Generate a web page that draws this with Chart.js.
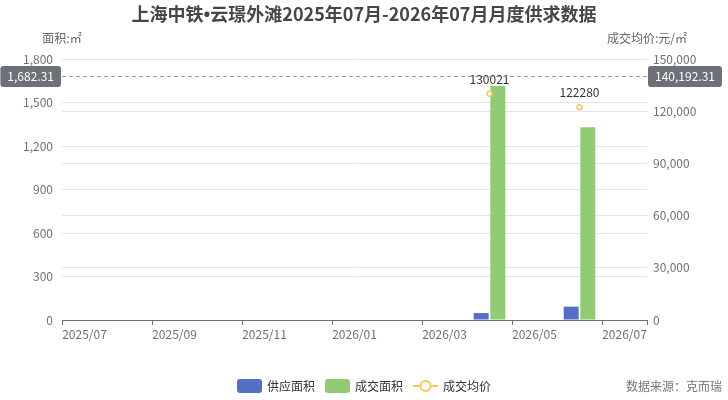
<!DOCTYPE html>
<html>
<head>
<meta charset="utf-8">
<script src="https://cdn.jsdelivr.net/npm/chart.js@4.4.0/dist/chart.umd.min.js"></script>
<style>
  body { margin: 0; background: #fff; font-family: "Noto Sans CJK SC", "Noto Sans", sans-serif; }
  #wrap { position: relative; width: 728px; height: 400px; overflow: hidden; }
  #title { position: absolute; left: 0; top: 2px; width: 728px; text-align: center;
           font-size: 18px; font-weight: bold; color: #464646; line-height: 22px; }
  #title .dot { font-family: "Noto Sans", "DejaVu Sans", sans-serif; }
  #legend { position: absolute; left: 0; top: 378px; width: 728px; display: flex;
            justify-content: center; font-size: 12px; color: #333; line-height: 16px; }
  #legend .item { display: flex; align-items: center; margin: 0 5px; }
  #legend .box { width: 25px; height: 14px; border-radius: 3px; margin-right: 5px; }
  #legend svg { margin-right: 5px; }
  #source { position: absolute; right: 6px; top: 378px; font-size: 12px; color: #777; line-height: 16px; }
</style>
</head>
<body>
<div id="wrap">
  <canvas id="c" width="728" height="400"></canvas>
  <div id="title">上海中铁<span class="dot">•</span>云璟外滩2025年07月-2026年07月月度供求数据</div>
  <div id="legend">
    <div class="item"><span class="box" style="background:#5470c6"></span>供应面积</div>
    <div class="item"><span class="box" style="background:#91cc75"></span>成交面积</div>
    <div class="item">
      <svg width="25" height="14"><line x1="0" y1="7" x2="25" y2="7" stroke="#fac858" stroke-width="2"/><circle cx="12.5" cy="7" r="5" fill="#fff" stroke="#fac858" stroke-width="2"/></svg>成交均价
    </div>
  </div>
  <div id="source">数据来源：克而瑞</div>
</div>
<script>
const months = ['2025/07','2025/08','2025/09','2025/10','2025/11','2025/12','2026/01',
                '2026/02','2026/03','2026/04','2026/05','2026/06','2026/07'];
const supplyArea = [0, 0, 0, 0, 0, 0, 0, 0, 0, 48, 0, 92, 0];
const dealArea   = [0, 0, 0, 0, 0, 0, 0, 0, 0, 1614, 0, 1329, 0];
const avgPrice   = [null, null, null, null, null, null, null, null, null, 130021, null, 122280, null];
const leftTicks  = { min: 0, max: 1800, step: 300 };
const rightTicks = { min: 0, max: 150000, step: 30000 };
const crossLeft  = 1682.31;
const crossRight = 140192.31;

const AXIS_GREY = '#6e7079';
const GRID = '#e0e6f1';
const FONT = '"Noto Sans CJK SC", "Noto Sans", sans-serif';
const fmt = v => v.toLocaleString('en-US');
const fmt2 = v => v.toLocaleString('en-US', { minimumFractionDigits: 2, maximumFractionDigits: 2 });

function roundRect(ctx, x, y, w, h, r) {
  ctx.beginPath();
  ctx.moveTo(x + r, y);
  ctx.arcTo(x + w, y, x + w, y + h, r);
  ctx.arcTo(x + w, y + h, x, y + h, r);
  ctx.arcTo(x, y + h, x, y, r);
  ctx.arcTo(x, y, x + w, y, r);
  ctx.closePath();
}

// axis names, price labels and the horizontal axis pointer
const extras = {
  id: 'extras',
  afterDatasetsDraw(chart) {
    const { ctx } = chart;
    const meta = chart.getDatasetMeta(2);
    ctx.save();
    ctx.font = `12px ${FONT}`;
    ctx.fillStyle = '#333';
    ctx.textAlign = 'center';
    ctx.textBaseline = 'alphabetic';
    meta.data.forEach((pt, i) => {
      if (avgPrice[i] == null) return;
      ctx.fillText(String(avgPrice[i]), pt.x, pt.y - 10);
    });
    ctx.restore();
  },
  afterDraw(chart) {
    const { ctx, chartArea: a, scales } = chart;
    ctx.save();
    ctx.font = `12px ${FONT}`;
    ctx.fillStyle = '#666';
    ctx.textAlign = 'center';
    ctx.textBaseline = 'middle';
    ctx.fillText('面积:㎡', a.left, 38);
    ctx.fillText('成交均价:元/㎡', a.right, 38);

    const y = Math.round(scales.y.getPixelForValue(crossLeft)) + 0.5;
    ctx.strokeStyle = '#999';
    ctx.lineWidth = 1;
    ctx.setLineDash([4, 3]);
    ctx.beginPath();
    ctx.moveTo(a.left, y);
    ctx.lineTo(a.right, y);
    ctx.stroke();
    ctx.setLineDash([]);

    const lt = fmt2(crossLeft), rt = fmt2(crossRight);
    const lw = ctx.measureText(lt).width + 14, rw = ctx.measureText(rt).width + 14;
    ctx.fillStyle = AXIS_GREY;
    roundRect(ctx, a.left - 1 - lw, y - 10.5, lw, 21, 3);
    ctx.fill();
    roundRect(ctx, a.right + 1, y - 10.5, rw, 21, 3);
    ctx.fill();
    ctx.fillStyle = '#fff';
    ctx.fillText(lt, a.left - 1 - lw / 2, y);
    ctx.fillText(rt, a.right + 1 + rw / 2, y);
    ctx.restore();
  }
};

new Chart(document.getElementById('c'), {
  data: {
    labels: months,
    datasets: [
      { type: 'bar', label: '供应面积', data: supplyArea, backgroundColor: '#5470c6',
        yAxisID: 'y', categoryPercentage: 0.74, barPercentage: 0.9, order: 2 },
      { type: 'bar', label: '成交面积', data: dealArea, backgroundColor: '#91cc75',
        yAxisID: 'y', categoryPercentage: 0.74, barPercentage: 0.9, order: 2 },
      { type: 'line', label: '成交均价', data: avgPrice, yAxisID: 'y1', spanGaps: false,
        borderColor: '#fac858', borderWidth: 2, backgroundColor: '#fff',
        pointRadius: 2.5, pointBorderWidth: 1.5, pointBorderColor: '#fac858',
        pointBackgroundColor: '#fff', order: 1 }
    ]
  },
  options: {
    responsive: false,
    animation: false,
    layout: { padding: { top: 59, left: 0, right: 0, bottom: 0 } },
    plugins: { legend: { display: false }, tooltip: { enabled: false }, title: { display: false } },
    scales: {
      x: {
        offset: true,
        grid: {
          offset: true, drawOnChartArea: false, tickLength: 5,
          color: ctx => (ctx.index === undefined || ctx.index % 2 === 0) ? AXIS_GREY : 'rgba(0,0,0,0)'
        },
        border: { display: true, color: AXIS_GREY },
        ticks: {
          autoSkip: false, maxRotation: 0, padding: 2, color: AXIS_GREY,
          font: { size: 12, family: FONT },
          callback: (v, i) => i % 2 === 0 ? months[i] : ''
        },
        afterFit: s => { s.height = 80; }
      },
      y: {
        position: 'left',
        min: leftTicks.min, max: leftTicks.max,
        ticks: { stepSize: leftTicks.step, padding: 9, color: AXIS_GREY,
                 font: { size: 12, family: FONT }, callback: v => fmt(v) },
        grid: { color: GRID, drawTicks: false },
        border: { display: false },
        afterFit: s => { s.width = 62; }
      },
      y1: {
        position: 'right',
        min: rightTicks.min, max: rightTicks.max,
        ticks: { stepSize: rightTicks.step, padding: 6, color: AXIS_GREY,
                 font: { size: 12, family: FONT }, callback: v => fmt(v) },
        grid: { color: GRID, drawTicks: false },
        border: { display: false },
        afterFit: s => { s.width = 81; }
      }
    }
  },
  plugins: [extras]
});
</script>
</body>
</html>
